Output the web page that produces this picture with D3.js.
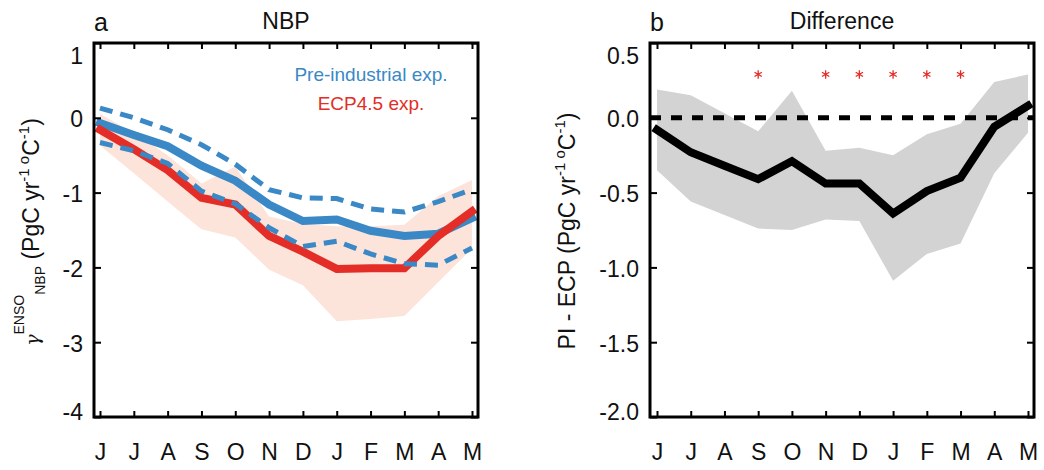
<!DOCTYPE html>
<html>
<head>
<meta charset="utf-8">
<script src="https://cdn.jsdelivr.net/npm/d3@7"></script>
<style>
  html, body { margin: 0; padding: 0; background: #fff; }
  svg { display: block; }
  text { font-family: "Liberation Sans", Arial, Helvetica, sans-serif; fill: #111; }
</style>
</head>
<body>
<svg id="chart" width="1044" height="470"></svg>
<script>
// Month labels (June to May)
const months = ["J", "J", "A", "S", "O", "N", "D", "J", "F", "M", "A", "M"];

// Panel a: NBP sensitivity to ENSO (PgC yr-1 oC-1)
const piMean   = [-0.07, -0.23, -0.38, -0.64, -0.84, -1.16, -1.38, -1.36, -1.51, -1.58, -1.55, -1.34];
const piUpper  = [ 0.13,  0.00, -0.16, -0.36, -0.62, -0.96, -1.07, -1.08, -1.22, -1.26, -1.12, -0.96];
const piLower  = [-0.33, -0.44, -0.61, -0.98, -1.15, -1.47, -1.72, -1.65, -1.82, -1.95, -1.97, -1.74];
const ecpMean  = [-0.16, -0.42, -0.70, -1.07, -1.16, -1.58, -1.79, -2.02, -2.01, -2.01, -1.58, -1.25];
const ecpUpper = [ 0.05, -0.20, -0.50, -0.88, -0.65, -1.32, -1.42, -1.45, -1.45, -1.43, -1.05, -0.83];
const ecpLower = [-0.37, -0.74, -1.12, -1.49, -1.60, -2.03, -2.24, -2.72, -2.69, -2.65, -2.20, -1.75];
const ticksA   = [-4, -3, -2, -1, 0, 1];

// Panel b: difference between the two experiments
const diffMean  = [-0.08, -0.23, -0.32, -0.41, -0.29, -0.44, -0.44, -0.64, -0.49, -0.40, -0.06, 0.08];
const diffUpper = [ 0.19,  0.15,  0.03, -0.09,  0.18, -0.22, -0.20, -0.25, -0.11, -0.04,  0.24, 0.29];
const diffLower = [-0.35, -0.56, -0.65, -0.74, -0.75, -0.68, -0.69, -1.09, -0.91, -0.84, -0.37, -0.10];
const significant = [0, 0, 0, 1, 0, 1, 1, 1, 1, 1, 0, 0];
const ticksB    = [-2.0, -1.5, -1.0, -0.5, 0.0, 0.5];

const BLUE = "#3a88c5", RED = "#e32d26", PINK = "#fde4da", GRAY = "#d3d3d3";
const svg = d3.select("#chart");
const idx = d3.range(months.length);

function panel(opts) {
  const { fx0, fx1, fy0, fy1, xr, yDomain, yTicks, fmt, id } = opts;
  const x = d3.scaleLinear().domain([0, months.length - 1]).range(xr);
  const y = d3.scaleLinear().domain(yDomain).range([fy1, fy0]);
  const g = svg.append("g");

  g.append("clipPath").attr("id", id).append("rect")
    .attr("x", fx0).attr("y", fy0).attr("width", fx1 - fx0).attr("height", fy1 - fy0);
  const plot = g.append("g").attr("clip-path", `url(#${id})`);

  // inward ticks on all four sides
  const yl = d3.axisLeft(y).tickValues(yTicks).tickFormat(fmt).tickSizeInner(-7).tickSizeOuter(0).tickPadding(11);
  const yAx = g.append("g").attr("transform", `translate(${fx0},0)`).call(yl);
  yAx.selectAll("text")
    .attr("dy", null)
    .attr("y", d => Math.min(Math.max(y(d) + 9, fy0 + 20), fy1 + 2) - y(d));
  g.append("g").attr("transform", `translate(${fx1},0)`)
    .call(d3.axisRight(y).tickValues(yTicks).tickFormat("").tickSizeInner(-7).tickSizeOuter(0));
  const xb = d3.axisBottom(x).tickValues(idx).tickFormat(i => months[i]).tickSizeInner(-6).tickSizeOuter(0);
  const xAx = g.append("g").attr("transform", `translate(0,${fy1})`).call(xb);
  xAx.selectAll("text").attr("dy", null).attr("y", 43);
  g.append("g").attr("transform", `translate(0,${fy0})`)
    .call(d3.axisTop(x).tickValues(idx).tickFormat("").tickSizeInner(-6).tickSizeOuter(0));

  g.selectAll(".domain").remove();
  g.selectAll(".tick line").attr("stroke", "#000").attr("stroke-width", 2);
  g.selectAll(".tick text").attr("font-size", 23).attr("fill", "#111")
    .attr("font-family", '"Liberation Sans", Arial, sans-serif');

  g.append("rect").attr("x", fx0).attr("y", fy0).attr("width", fx1 - fx0).attr("height", fy1 - fy0)
    .attr("fill", "none").attr("stroke", "#000").attr("stroke-width", 3);

  return { g, plot, x, y };
}

// ---------- panel a ----------
const A = panel({ fx0: 94, fx1: 478, fy0: 43, fy1: 417, xr: [100, 472],
  yDomain: [-4, 1], yTicks: ticksA, fmt: d => String(d), id: "clipA" });

const areaA = d3.area().x(i => A.x(i)).y0(i => A.y(ecpLower[i])).y1(i => A.y(ecpUpper[i]));
A.plot.append("path").datum(idx).attr("d", areaA).attr("fill", PINK);

const lineA = arr => d3.line().x(i => A.x(i)).y(i => A.y(arr[i]))(idx);
A.plot.append("path").attr("d", lineA(piMean)).attr("fill", "none")
  .attr("stroke", BLUE).attr("stroke-width", 8).attr("stroke-linecap", "square");
A.plot.append("path").attr("d", lineA(ecpMean)).attr("fill", "none")
  .attr("stroke", RED).attr("stroke-width", 8).attr("stroke-linecap", "square");
[piUpper, piLower].forEach(arr => {
  A.plot.append("path").attr("d", lineA(arr)).attr("fill", "none")
    .attr("stroke", BLUE).attr("stroke-width", 5).attr("stroke-dasharray", "13,8");
});

A.g.append("text").attr("x", 371).attr("y", 81).attr("text-anchor", "middle")
  .attr("font-size", 19).style("fill", BLUE).text("Pre-industrial exp.");
A.g.append("text").attr("x", 371).attr("y", 110).attr("text-anchor", "middle")
  .attr("font-size", 19).style("fill", RED).text("ECP4.5 exp.");

A.g.append("text").attr("x", 94).attr("y", 31).attr("font-size", 25).text("a");
A.g.append("text").attr("x", 286).attr("y", 29).attr("text-anchor", "middle").attr("font-size", 23).text("NBP");

// y-axis title with gamma, super/subscripts
const tA = A.g.append("text").attr("transform", "translate(39,232) rotate(-90)")
  .attr("text-anchor", "middle").attr("font-size", 23);
tA.append("tspan").attr("font-family", '"DejaVu Serif", serif').attr("font-style", "italic")
  .attr("font-size", 19).text("\u03B3");
tA.append("tspan").attr("dy", -15).attr("font-size", 14).text("ENSO");
tA.append("tspan").attr("dy", 21).attr("font-size", 14).text("NBP");
tA.append("tspan").attr("dy", -6).text(" (PgC yr");
tA.append("tspan").attr("dy", -10).attr("font-size", 15).text("-1");
tA.append("tspan").attr("font-size", 15).text(" o");
tA.append("tspan").attr("dy", 10).text("C");
tA.append("tspan").attr("dy", -10).attr("font-size", 15).text("-1");
tA.append("tspan").attr("dy", 10).text(")");

// ---------- panel b ----------
const B = panel({ fx0: 650, fx1: 1034, fy0: 43, fy1: 417, xr: [657, 1028],
  yDomain: [-2, 0.5], yTicks: ticksB, fmt: d => d.toFixed(1), id: "clipB" });

const areaB = d3.area().x(i => B.x(i)).y0(i => B.y(diffLower[i])).y1(i => B.y(diffUpper[i]));
B.plot.append("path").datum(idx).attr("d", areaB).attr("fill", GRAY);

B.plot.append("line").attr("x1", 650).attr("x2", 1034).attr("y1", B.y(0)).attr("y2", B.y(0))
  .attr("stroke", "#000").attr("stroke-width", 5).attr("stroke-dasharray", "11,10");

B.plot.append("path").attr("d", d3.line().x(i => B.x(i)).y(i => B.y(diffMean[i]))(idx))
  .attr("fill", "none").attr("stroke", "#000").attr("stroke-width", 8).attr("stroke-linecap", "square");

const starLevel = 0.29;
B.plot.selectAll(".star").data(idx.filter(i => significant[i])).join("path")
  .attr("class", "star")
  .attr("transform", i => `translate(${B.x(i)},${B.y(starLevel)})`)
  .attr("d", d3.symbol().type(d3.symbolAsterisk).size(50)())
  .attr("fill", "none").attr("stroke", RED).attr("stroke-width", 1.3);

B.g.append("text").attr("x", 650).attr("y", 31).attr("font-size", 25).text("b");
B.g.append("text").attr("x", 842).attr("y", 29).attr("text-anchor", "middle").attr("font-size", 23).text("Difference");

const tB = B.g.append("text").attr("transform", "translate(575,231) rotate(-90)")
  .attr("text-anchor", "middle").attr("font-size", 23);
tB.append("tspan").text("PI - ECP (PgC yr");
tB.append("tspan").attr("dy", -10).attr("font-size", 15).text("-1");
tB.append("tspan").attr("font-size", 15).text(" o");
tB.append("tspan").attr("dy", 10).text("C");
tB.append("tspan").attr("dy", -10).attr("font-size", 15).text("-1");
tB.append("tspan").attr("dy", 10).text(")");
</script>
</body>
</html>
